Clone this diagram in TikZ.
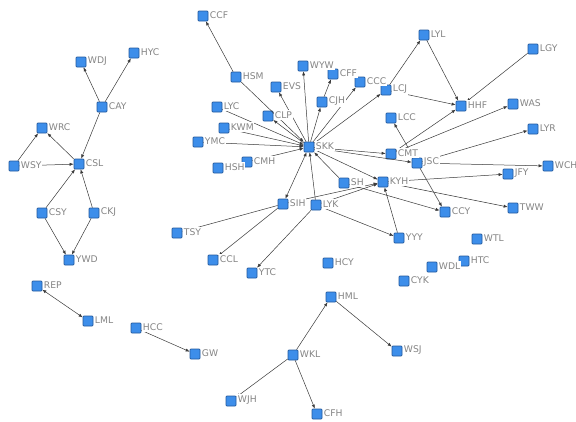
\documentclass[tikz,border=0pt]{standalone}
\usepackage{fontspec}
\setmainfont{DejaVu Sans}
\usetikzlibrary{arrows.meta}
\definecolor{nfill}{HTML}{3D8EEA}
\definecolor{ndraw}{HTML}{22599E}
\definecolor{ecol}{HTML}{3A3A3A}
\definecolor{lgray}{HTML}{858585}
\begin{document}
\begin{tikzpicture}[x=1pt,y=-1pt,
  tp/.tip={Latex[length=4pt,width=3.2pt]},
  sq/.style={rectangle,draw=ndraw,fill=nfill,line width=0.7pt,minimum size=10pt,inner sep=0pt,rounded corners=0.8pt},
  lbl/.style={anchor=west,text=lgray,fill=white,inner xsep=0.8pt,inner ysep=1.6pt,font=\fontsize{9.2}{10}\selectfont},
  e/.style={draw=ecol,line width=0.5pt,-tp},
  ebi/.style={draw=ecol,line width=0.5pt,tp-tp}]
\useasboundingbox[fill=white] (0,0) rectangle (576,421);
\foreach \n/\x/\y in {WDJ/81/62,HYC/134/53,CAY/102/107,WRC/42/128,CSL/79/164,WSY/14/166,
  CSY/42/213,CKJ/94/213,YWD/69/260,REP/37/286,LML/88/321,HCC/136/328,GW/195/354,
  CCF/203/16,HSM/236/77,EVS/276/87,WYW/303/66,CFF/333/74,CCC/360/82,CJH/322/102,
  LCJ/386/90,LYL/424/35,HHF/461/106,LGY/533/49,WAS/513/104,LYR/533/129,LCC/391/118,
  CMT/391/154,JSC/417/163,JFY/508/174,WCH/548/166,TWW/513/208,CCY/445/212,KYH/383/182,
  SH/344/183,SKK/309/147,LYC/217/107,CLP/268/116,KWM/224/128,YMC/198/142,CMH/247/162,
  HSH/218/168,SIH/283/204,LYK/316/205,TSY/177/233,CCL/213/260,YTC/252/273,YYY/399/238,
  HCY/328/263,WTL/477/239,WDL/432/267,HTC/464/261,CYK/404/281,HML/331/297,WSJ/397/351,
  WKL/293/355,WJH/231/401,CFH/317/414}
  {\node[sq] (\n) at (\x,\y) {};}
\foreach \a/\b in {CAY/WDJ,CAY/HYC,CAY/CSL,CSL/WRC,WSY/WRC,WSY/CSL,CSY/CSL,CKJ/CSL,
  CSY/YWD,CKJ/YWD,HCC/GW,WKL/HML,HML/WSJ,WKL/CFH,WKL/WJH,
  HSM/CCF,HSM/SKK,SKK/EVS,SKK/WYW,SKK/CJH,CJH/CFF,SKK/CCC,SKK/LCJ,LCJ/LYL,LYL/HHF,
  LCJ/HHF,LGY/HHF,CMT/HHF,CMT/WAS,JSC/LYR,JSC/LCC,SKK/CMT,SKK/JSC,JSC/WCH,KYH/JFY,
  KYH/TWW,JSC/CCY,SH/CCY,SKK/KYH,SH/SKK,SIH/KYH,LYK/KYH,YYY/KYH,LYK/YYY,LYK/SKK,
  SIH/TSY,SIH/CCL,LYK/YTC,LYC/SKK,KWM/SKK,YMC/SKK,CMH/SKK,SKK/CLP}
  {\draw[e] (\a) -- (\b);}
\draw[ebi] (REP) -- (LML);
\draw[ebi] (SKK) -- (SIH);
\foreach \n in {WDJ,HYC,CAY,WRC,CSL,WSY,CSY,CKJ,YWD,REP,LML,HCC,GW,CCF,HSM,EVS,WYW,CFF,
  CCC,CJH,LCJ,LYL,HHF,LGY,WAS,LYR,LCC,CMT,JSC,JFY,WCH,TWW,CCY,KYH,SH,SKK,LYC,CLP,KWM,
  YMC,CMH,HSH,SIH,LYK,TSY,CCL,YTC,YYY,HCY,WTL,WDL,HTC,CYK,HML,WSJ,WKL,WJH,CFH}
  {\node[lbl] at ([xshift=0.6pt,yshift=1pt]\n.east) {\n};}
\end{tikzpicture}
\end{document}
